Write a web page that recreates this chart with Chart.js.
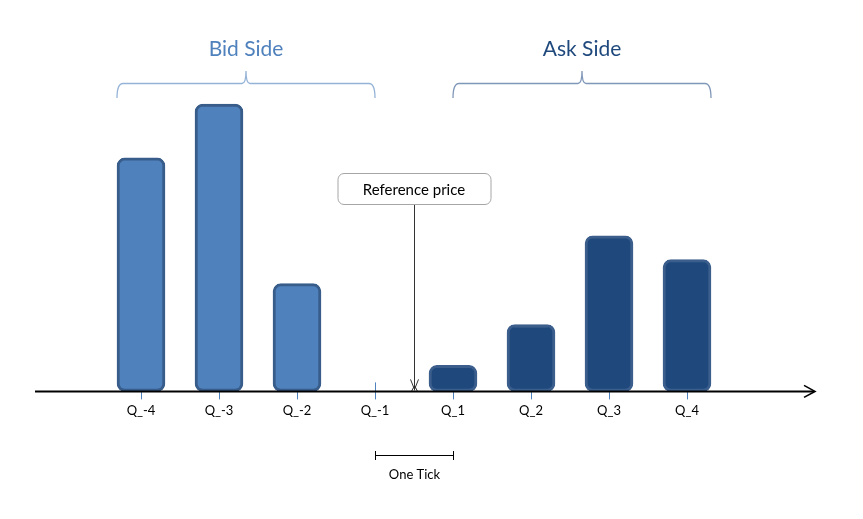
<!DOCTYPE html>
<html>
<head>
<meta charset="utf-8">
<script src="https://cdn.jsdelivr.net/npm/chart.js@4.4.1/dist/chart.umd.min.js"></script>
<style>
  html, body { margin: 0; padding: 0; background: #fff; }
  #wrap { width: 863px; height: 519px; }
</style>
</head>
<body>
<div id="wrap"><canvas id="book"></canvas></div>
<script>
// Order book queue sizes
const labels = ['Q_-4', 'Q_-3', 'Q_-2', 'Q_-1', 'Q_1', 'Q_2', 'Q_3', 'Q_4'];
const bidSizes = [234, 288, 108, null];
const askSizes = [26, 67, 156, 132];
const sideTitles = ['Bid Side', 'Ask Side'];
const refLabel = 'Reference price';
const tickLabel = 'One Tick';

const bidFill = '#4f81bd', bidLine = '#385d8a';
const askFill = '#1f497d', askLine = '#3b5e8c';

const sizes = bidSizes.concat(askSizes);
const fills = bidSizes.map(() => bidFill).concat(askSizes.map(() => askFill));
const lines = bidSizes.map(() => bidLine).concat(askSizes.map(() => askLine));

// Draws axis arrow, braces, reference price callout and tick span
const annotations = {
    id: 'annotations',
    beforeDatasetsDraw(chart) {
        const ctx = chart.ctx;
        const x = chart.scales.x;
        const y0 = chart.scales.y.getPixelForValue(0);
        ctx.save();
        // extra tick above the axis at Q_-1
        ctx.strokeStyle = '#4f81bd';
        ctx.lineWidth = 1;
        ctx.beginPath();
        ctx.moveTo(x.getPixelForValue(3) + 0.5, y0 - 9);
        ctx.lineTo(x.getPixelForValue(3) + 0.5, y0);
        ctx.stroke();
        // reference price arrow
        const rx = Math.round((x.getPixelForValue(3) + x.getPixelForValue(4)) / 2) + 0.5;
        ctx.strokeStyle = '#333';
        ctx.beginPath();
        ctx.moveTo(rx, 204);
        ctx.lineTo(rx, y0 - 1);
        ctx.moveTo(rx - 4, y0 - 12);
        ctx.lineTo(rx, y0 - 2);
        ctx.lineTo(rx + 4, y0 - 12);
        ctx.moveTo(rx - 3, y0);
        ctx.lineTo(rx, y0 - 6);
        ctx.lineTo(rx + 3, y0);
        ctx.stroke();
        ctx.restore();
    },
    afterDatasetsDraw(chart) {
        const ctx = chart.ctx;
        const x = chart.scales.x;
        const y0 = chart.scales.y.getPixelForValue(0);
        ctx.save();
        // horizontal axis with arrow head
        ctx.strokeStyle = '#000';
        ctx.lineWidth = 2;
        ctx.beginPath();
        ctx.moveTo(35, y0);
        ctx.lineTo(814, y0);
        ctx.stroke();
        ctx.lineWidth = 1.6;
        ctx.beginPath();
        ctx.moveTo(804, y0 - 6);
        ctx.lineTo(815, y0);
        ctx.lineTo(804, y0 + 6);
        ctx.stroke();

        // braces and side titles
        const half = 24;
        const braces = [
            { a: x.getPixelForValue(0) - half, b: x.getPixelForValue(3), color: '#95b3d7', text: bidFill },
            { a: x.getPixelForValue(4), b: x.getPixelForValue(7) + half, color: '#7f97b8', text: askFill }
        ];
        braces.forEach((br, i) => {
            const m = (br.a + br.b) / 2;
            const yb = 83.5;
            ctx.strokeStyle = br.color;
            ctx.lineWidth = 1.3;
            ctx.beginPath();
            ctx.moveTo(br.a, 98);
            ctx.quadraticCurveTo(br.a, yb, br.a + 6, yb);
            ctx.lineTo(m - 4, yb);
            ctx.quadraticCurveTo(m, yb, m, 71);
            ctx.quadraticCurveTo(m, yb, m + 4, yb);
            ctx.lineTo(br.b - 6, yb);
            ctx.quadraticCurveTo(br.b, yb, br.b, 98);
            ctx.stroke();
            ctx.fillStyle = br.text;
            ctx.font = '21px Lato, "Open Sans", sans-serif';
            ctx.textAlign = 'center';
            ctx.textBaseline = 'middle';
            ctx.fillText(sideTitles[i], m, 49);
        });

        // reference price box
        const rx = (x.getPixelForValue(3) + x.getPixelForValue(4)) / 2;
        const bw = 153, bh = 31, bx = rx - bw / 2 + 0.5, by = 173.5, r = 6;
        ctx.fillStyle = '#fff';
        ctx.strokeStyle = '#a6a6a6';
        ctx.lineWidth = 1;
        ctx.beginPath();
        ctx.roundRect(bx, by, bw, bh, r);
        ctx.fill();
        ctx.stroke();
        ctx.fillStyle = '#000';
        ctx.font = '15px Lato, "Open Sans", sans-serif';
        ctx.textAlign = 'center';
        ctx.textBaseline = 'middle';
        ctx.fillText(refLabel, rx, by + bh / 2 + 1);

        // one tick span
        const ta = Math.round(x.getPixelForValue(3)) + 0.5;
        const tb = Math.round(x.getPixelForValue(4)) + 0.5;
        ctx.strokeStyle = '#000';
        ctx.lineWidth = 1;
        ctx.beginPath();
        ctx.moveTo(ta, 451); ctx.lineTo(ta, 460);
        ctx.moveTo(tb, 451); ctx.lineTo(tb, 460);
        ctx.moveTo(ta, 455.5); ctx.lineTo(tb, 455.5);
        ctx.stroke();
        ctx.font = '13px Lato, "Open Sans", sans-serif';
        ctx.fillText(tickLabel, (ta + tb) / 2, 475);
        ctx.restore();
    }
};

new Chart(document.getElementById('book'), {
    type: 'bar',
    data: {
        labels: labels,
        datasets: [{
            data: sizes,
            backgroundColor: fills,
            borderColor: lines,
            borderWidth: 3,
            borderRadius: 8,
            borderSkipped: false,
            barThickness: 48,
            clip: false
        }]
    },
    options: {
        responsive: true,
        maintainAspectRatio: false,
        animation: false,
        layout: { padding: { left: 102, right: 137, top: 92, bottom: 96 } },
        plugins: { legend: { display: false }, tooltip: { enabled: false } },
        scales: {
            x: {
                offset: true,
                border: { display: false },
                grid: { drawOnChartArea: false, offset: false, tickLength: 8, color: '#4f81bd', lineWidth: 1 },
                ticks: { padding: 4, color: '#000', font: { family: 'Lato', size: 13 } }
            },
            y: { display: false, min: 0, max: 300 }
        }
    },
    plugins: [annotations]
});
</script>
</body>
</html>
